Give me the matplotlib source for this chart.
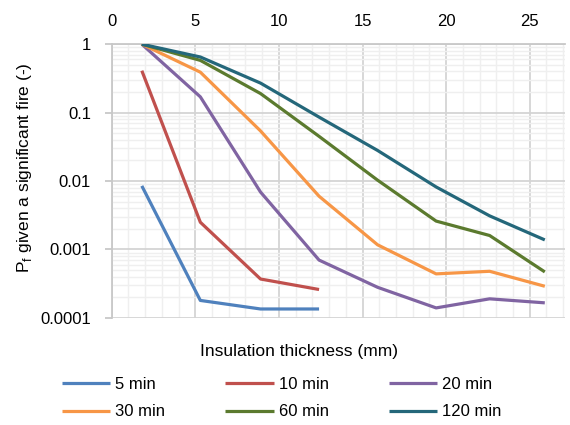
import matplotlib
matplotlib.use("Agg")
import matplotlib.pyplot as plt
from matplotlib.ticker import FixedLocator, LogLocator, NullFormatter, FixedFormatter

plt.rcParams["font.family"] = ["Liberation Sans", "DejaVu Sans"]

thickness = [1.8, 5.3, 8.9, 12.4, 15.9, 19.4, 22.6, 25.9]

series = {
    "5 min": [0.0085, 0.00018, 0.000135, 0.000135],
    "10 min": [0.41, 0.0025, 0.00037, 0.00026],
    "20 min": [1.0, 0.17, 0.0069, 0.0007, 0.00028, 0.00014, 0.00019, 0.000166],
    "30 min": [1.0, 0.39, 0.054, 0.006, 0.00117, 0.00044, 0.00048, 0.00029],
    "60 min": [1.0, 0.58, 0.19, 0.045, 0.0103, 0.0026, 0.0016, 0.00047],
    "120 min": [1.0, 0.65, 0.27, 0.086, 0.028, 0.0082, 0.0031, 0.00138],
}
colors = {
    "5 min": "#4F81BD",
    "10 min": "#C0504D",
    "20 min": "#8064A2",
    "30 min": "#F79646",
    "60 min": "#5B7A2E",
    "120 min": "#24677A",
}

fig = plt.figure(figsize=(5.7, 4.25), dpi=100)
ax = fig.add_axes([0.196, 0.252, 0.795, 0.644])

lines = {}
for name, vals in series.items():
    (ln,) = ax.plot(thickness[:len(vals)], vals, color=colors[name], lw=2.3,
                    solid_capstyle="butt", label=name, zorder=3)
    lines[name] = ln

ax.set_yscale("log")
ax.set_ylim(1e-4, 1)
ax.set_xlim(0, 27.1)

ax.xaxis.tick_top()
ax.set_xticks([0, 5, 10, 15, 20, 25])
ax.xaxis.set_minor_locator(FixedLocator(range(0, 28)))
ax.set_yticks([1e-4, 1e-3, 1e-2, 1e-1, 1])
ax.yaxis.set_major_formatter(FixedFormatter(["0.0001", "0.001", "0.01", "0.1", "1"]))
ax.yaxis.set_minor_locator(LogLocator(base=10, subs=range(2, 10)))
ax.yaxis.set_minor_formatter(NullFormatter())

ax.grid(which="major", color="#d4d4d4", lw=1.3, zorder=1)
ax.grid(which="minor", color="#efefef", lw=1.0, zorder=0)
ax.set_axisbelow(True)

for side in ["right", "bottom"]:
    ax.spines[side].set_visible(False)
for side in ["left", "top"]:
    ax.spines[side].set_color("#c8c8c8")
    ax.spines[side].set_linewidth(1.3)

ax.tick_params(axis="x", which="major", length=0, labelsize=12, pad=11)
ax.tick_params(axis="x", which="minor", length=0)
ax.tick_params(axis="y", which="major", length=5, color="#c8c8c8", width=1.3,
               labelsize=12, pad=10)
ax.tick_params(axis="y", which="minor", length=0)

ax.set_ylabel("P$_\\mathregular{f}$ given a significant fire (-)", fontsize=12.5)
ax.yaxis.set_label_coords(-0.172, 0.55)
ax.set_xlabel("Insulation thickness (mm)", fontsize=12.5)
ax.xaxis.set_label_coords(0.414, -0.095)

order = ["5 min", "30 min", "10 min", "60 min", "20 min", "120 min"]
ax.legend([lines[n] for n in order], order, ncol=3, frameon=False,
          loc="upper left", bbox_to_anchor=(62 / 570, 1 - 377 / 425),
          bbox_transform=fig.transFigure, fontsize=12,
          borderpad=0, borderaxespad=0,
          handlelength=2.9, handletextpad=0.3, columnspacing=3.6,
          labelspacing=0.75)

fig.savefig("out.png", dpi=100)
